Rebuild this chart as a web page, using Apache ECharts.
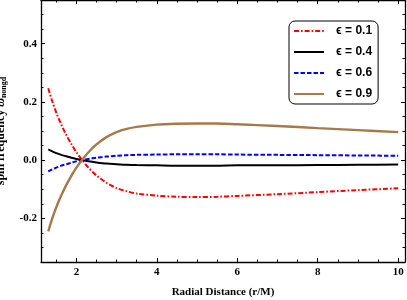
<!DOCTYPE html>
<html>
<head>
<meta charset="utf-8">
<script src="https://cdn.jsdelivr.net/npm/echarts@6/dist/echarts.min.js"></script>
<style>html,body{margin:0;padding:0;background:#fff;}#c{width:407px;height:300px;}</style>
</head>
<body>
<div id="c"></div>
<script>
// radial distance r/M
var radius = [1.3, 1.4, 1.5, 1.625, 1.75, 1.875, 2.0, 2.15, 2.3, 2.5, 2.75, 3.0, 3.25, 3.5, 4.0, 4.5, 5.0, 5.5, 6.0, 7.0, 8.0, 9.0, 10.0];
var seriesNames = ['ϵ = 0.1', 'ϵ = 0.4', 'ϵ = 0.6', 'ϵ = 0.9'];
var eps01 = [0.247, 0.202, 0.163, 0.122, 0.086, 0.055, 0.027, -0.001, -0.026, -0.053, -0.078, -0.096, -0.107, -0.115, -0.122, -0.126, -0.127, -0.126, -0.123, -0.117, -0.110, -0.103, -0.097];
var eps04 = [0.037, 0.030, 0.024, 0.018, 0.013, 0.008, 0.004, 0.000, -0.004, -0.008, -0.012, -0.014, -0.016, -0.017, -0.018, -0.019, -0.019, -0.019, -0.018, -0.018, -0.017, -0.016, -0.015];
var eps06 = [-0.039, -0.032, -0.026, -0.019, -0.014, -0.009, -0.004, 0.000, 0.004, 0.008, 0.012, 0.015, 0.017, 0.018, 0.019, 0.020, 0.020, 0.020, 0.019, 0.018, 0.017, 0.016, 0.015];
var eps09 = [-0.245, -0.200, -0.162, -0.121, -0.085, -0.054, -0.026, 0.002, 0.027, 0.054, 0.079, 0.096, 0.107, 0.114, 0.122, 0.125, 0.126, 0.126, 0.123, 0.117, 0.110, 0.103, 0.096];
var xMajorTicks = [2, 4, 6, 8, 10];
var xMinorTicks = [1.5, 2.5, 3, 3.5, 4.5, 5, 5.5, 6.5, 7, 7.5, 8.5, 9, 9.5];
var yMajorTicks = [-0.2, 0.0, 0.2, 0.4];
var yMinorTicks = [-0.35, -0.3, -0.25, -0.15, -0.1, -0.05, 0.05, 0.1, 0.15, 0.25, 0.3, 0.35, 0.45, 0.5, 0.55];

var X_MIN = 1.12, X_MAX = 10.17, Y_MIN = -0.35, Y_MAX = 0.55;
function pairs(ys) { return radius.map(function (r, i) { return [r, ys[i]]; }); }

var serif = 'Liberation Serif';
var gridRect = { left: 41, top: 0, width: 364, height: 262 };

function xAx(gi, pos, ticks, len, labels, name) {
  var a = {
    type: 'value', gridIndex: gi, position: pos, min: X_MIN, max: X_MAX,
    axisLine: { show: gi === 0, onZero: false, lineStyle: { color: '#000', width: 1.3 } },
    axisTick: { show: true, inside: true, length: len, customValues: ticks, lineStyle: { color: '#000', width: 1 } },
    axisLabel: { show: !!labels, customValues: ticks, margin: 5, color: '#000', fontFamily: serif, fontWeight: 'bold', fontSize: 11 },
    splitLine: { show: false }
  };
  if (name) {
    a.name = name; a.nameLocation = 'middle'; a.nameGap = 25;
    a.nameTextStyle = { color: '#000', fontFamily: serif, fontWeight: 'bold', fontSize: 11 };
  }
  return a;
}
function yAx(gi, pos, ticks, len, labels, name) {
  var a = {
    type: 'value', gridIndex: gi, position: pos, min: Y_MIN, max: Y_MAX,
    axisLine: { show: gi === 0, onZero: false, lineStyle: { color: '#000', width: 1.3 } },
    axisTick: { show: true, inside: true, length: len, customValues: ticks, lineStyle: { color: '#000', width: 1 } },
    axisLabel: { show: !!labels, customValues: ticks, margin: 4, color: '#000', fontFamily: serif, fontWeight: 'bold', fontSize: 11,
      formatter: function (v) { return v.toFixed(1); } },
    splitLine: { show: false }
  };
  if (name) {
    a.name = name; a.nameLocation = 'middle'; a.nameGap = 33; a.nameRotate = 90;
    a.nameTextStyle = { color: '#000', fontFamily: serif, fontWeight: 'bold', fontSize: 12,
      rich: {
        a: { fontFamily: serif, fontWeight: 'bold', fontSize: 12, lineHeight: 14, color: '#000' },
        w: { fontFamily: serif, fontStyle: 'italic', fontSize: 12, lineHeight: 14, color: '#000' },
        s: { fontFamily: serif, fontWeight: 'bold', fontSize: 8, lineHeight: 14, verticalAlign: 'bottom', padding: [3, 0, 0, 0], color: '#000' }
      } };
  }
  return a;
}

var colors = ['#ff0000', '#000000', '#0000ff', '#a57a4b'];
var styles = [
  { width: 2, type: [5, 2, 1.6, 2] },
  { width: 2, type: 'solid' },
  { width: 2, type: [4.5, 2] },
  { width: 2.4, type: 'solid' }
];
var datasets = [eps01, eps04, eps06, eps09];

var option = {
  animation: false,
  backgroundColor: '#fff',
  grid: [
    Object.assign({ containLabel: false, outerBoundsMode: 'none' }, gridRect),
    Object.assign({ containLabel: false, outerBoundsMode: 'none' }, gridRect)
  ],
  xAxis: [
    xAx(0, 'bottom', xMajorTicks, 4, true, 'Radial Distance (r/M)'),
    xAx(0, 'top', xMajorTicks, 4, false),
    xAx(1, 'bottom', xMinorTicks, 2.5, false),
    xAx(1, 'top', xMinorTicks, 2.5, false)
  ],
  yAxis: [
    yAx(0, 'left', yMajorTicks, 4, true, '{a|spin frequency }{w|ω}{s|nongd}'),
    yAx(0, 'right', yMajorTicks, 4, false),
    yAx(1, 'left', yMinorTicks, 2.5, false),
    yAx(1, 'right', yMinorTicks, 2.5, false)
  ],
  legend: {
    orient: 'vertical', left: 289, top: 21, width: 87,
    padding: [4, 6, 4, 4], itemGap: 9, itemWidth: 30, itemHeight: 14,
    borderColor: '#000', borderWidth: 1, borderRadius: 6, backgroundColor: '#fff',
    itemStyle: { opacity: 0, color: 'transparent', borderWidth: 0 },
    data: seriesNames,
    textStyle: { color: '#000', fontFamily: 'Liberation Sans', fontWeight: 'bold', fontSize: 12, padding: [0, 0, 0, 7] }
  },
  series: seriesNames.map(function (n, i) {
    return {
      name: n, type: 'line', xAxisIndex: 0, yAxisIndex: 0,
      data: pairs(datasets[i]), smooth: 0.3, symbol: 'none', showSymbol: false,
      color: colors[i], lineStyle: Object.assign({ color: colors[i], cap: 'butt' }, styles[i]),
      z: 2 + i
    };
  })
};
var chart = echarts.init(document.getElementById('c'), null, { renderer: 'canvas' });
chart.setOption(option);
</script>
</body>
</html>
